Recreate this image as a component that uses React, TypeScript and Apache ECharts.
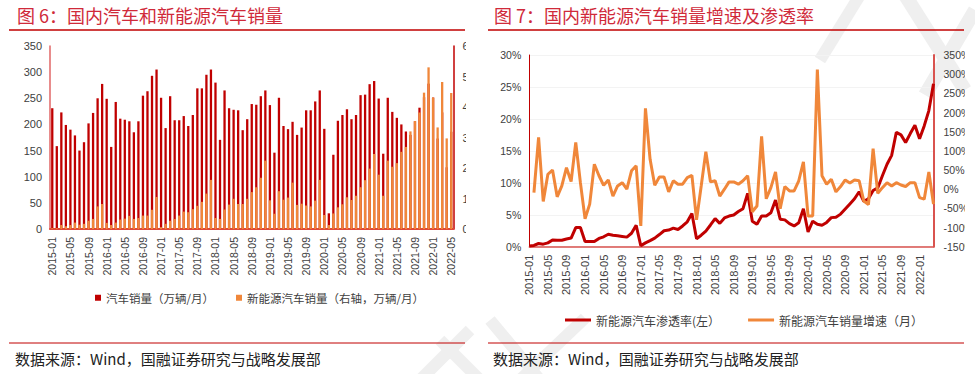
import React, { useEffect, useRef } from "react";
import * as echarts from "echarts";

function buildMonths(y0: number, n: number): string[] {
  const out: string[] = [];
  for (let i = 0; i < n; i++) {
    const y = y0 + Math.floor(i / 12);
    const m = (i % 12) + 1;
    out.push(`${y}-${m < 10 ? "0" + m : m}`);
  }
  return out;
}

// Figure 6 categories: 2015-01 .. 2022-05
const CAT_LEFT = buildMonths(2015, 89);
// Figure 7 categories: 2015-01 .. 2022-04
const CAT_RIGHT = buildMonths(2015, 88);

// 汽车销量（万辆/月）
const TOTAL_SALES = [
  231, 158.5, 223, 199, 190, 179, 150, 166, 202, 222, 250, 277.5,
  249, 157, 243, 211, 209, 206, 185, 206, 255, 263.5, 293, 305,
  251, 193, 254, 208, 208, 216, 197, 218, 269, 269, 295, 305,
  280, 170.5, 265, 231, 228, 227, 189, 210, 239, 237.4, 254, 265,
  237, 146, 251, 197, 191, 205, 180, 194, 227, 227, 244, 265,
  191.6, 30, 142, 207, 218, 229, 210, 218, 256, 257, 277, 283,
  249.5, 144, 251, 224, 212.6, 200, 186.5, 180, 206, 232, 252, 278,
  251.4, 173, 223, 118, 186,
];

// 新能源汽车销量（右轴，万辆/月）
const NEV_SALES = [
  0.3, 0.3, 1.3, 0.9, 1.3, 2.1, 1.4, 1.7, 2.7, 3.3, 7.4, 8.2,
  2.0, 1.3, 2.1, 3.1, 3.4, 4.3, 3.3, 3.6, 4.4, 4.4, 6.3, 10.5,
  0.6, 1.7, 2.7, 3.3, 4.4, 5.7, 5.5, 6.5, 7.6, 8.9, 11.6, 16.1,
  3.6, 3.3, 6.4, 8.0, 9.9, 8.2, 8.2, 9.9, 12.1, 13.7, 16.8, 22.4,
  9.4, 5.0, 12.4, 9.6, 10.3, 15.2, 7.9, 8.3, 7.7, 7.4, 9.3, 16.1,
  4.6, 1.3, 5.1, 7.1, 8.1, 10.4, 9.5, 10.9, 13.7, 16.0, 19.8, 24.6,
  17.8, 10.9, 22.4, 20.4, 21.6, 25.3, 26.9, 32.0, 35.4, 38.2, 44.7, 53.0,
  43.1, 33.3, 48.2, 29.7, 44.6,
];

// 新能源汽车渗透率（左，%）
const PENETRATION = [
  0.1, 0.2, 0.5, 0.4, 0.6, 1.05, 1.0, 1.0, 1.2, 1.35, 3.0, 3.0,
  0.8, 0.8, 0.8, 1.3, 1.55, 1.95, 1.8, 1.7, 1.6, 1.5, 2.1, 3.35,
  0.15, 0.6, 0.95, 1.35, 1.9, 2.5, 2.6, 2.9, 2.7, 3.25, 3.9, 5.2,
  1.25, 1.8, 2.45, 3.4, 4.4, 3.65, 4.5, 4.8, 4.95, 5.5, 5.95, 8.35,
  4.0, 3.5, 4.8, 4.8, 5.3, 7.3, 4.3, 4.2, 3.6, 3.25, 3.75, 5.95,
  2.3, 4.0, 3.5, 3.35, 3.8, 4.55, 4.6, 5.1, 5.9, 6.7, 7.5, 8.6,
  7.1, 7.5, 8.8, 9.2, 11.1, 12.9, 14.3, 17.9, 17.5, 16.3, 17.7, 19.0,
  16.9, 18.9, 21.3, 25.5,
];

// 新能源汽车销量增速（月，%）
const NEV_GROWTH: (number | null)[] = [
  null, -9, 135, -32, 39, 50, -20, 8.5, 56, 20, 122, 17,
  -77, -39, 65, 35, 10, 24, -18, 8.5, 17, 0, 48, 61,
  -96, 211, 78, 10, 32, 32, -7, 22, 13, 13, 30, 36,
  -80, 8.5, 98, 19, 22, -18, 0, 19, 19, 13, 22, 35,
  -59, -44, 138, -25, 4, 45, -51, 7, -4.5, -4.5, 22, 71,
  -70, -70, 312, 35, 13, 26, -7, 7, 24, 16, 24, 22,
  -31, -40, 106, -11, 4, 17, 8.5, 17, 11, 7, 17, 17,
  -22, -26, 45, -39,
];

const TITLE_LEFT = "图 6：国内汽车和新能源汽车销量";
const TITLE_RIGHT = "图 7：国内新能源汽车销量增速及渗透率";
const SOURCE = "数据来源：Wind，国融证券研究与战略发展部";
const LEG_TOTAL = "汽车销量（万辆/月）";
const LEG_NEV = "新能源汽车销量（右轴，万辆/月）";
const LEG_PEN = "新能源汽车渗透率(左）";
const LEG_GROWTH = "新能源汽车销量增速（月）";

const CJK = '"Noto Sans CJK SC", sans-serif';
const NUM = '"Liberation Sans", Arial, "Noto Sans CJK SC", sans-serif';
const RED = "#c00000";
const ORANGE = "#f0873a";
const TEXT = "#404040";

function useChart(build: () => any) {
  const ref = useRef<HTMLDivElement | null>(null);
  useEffect(() => {
    if (!ref.current) return;
    const chart = echarts.init(ref.current, undefined, { renderer: "svg" });
    chart.setOption(build());
    return () => chart.dispose();
  }, []);
  return ref;
}

function backgroundOption() {
  const wm = "#efefef";
  return {
    animation: false,
    graphic: [
      // watermark fragments
      { type: "line", shape: { x1: 905, y1: -5, x2: 965, y2: 90 }, style: { stroke: wm, lineWidth: 14 } },
      { type: "line", shape: { x1: 975, y1: 10, x2: 925, y2: 95 }, style: { stroke: wm, lineWidth: 14 } },
      { type: "line", shape: { x1: 860, y1: -5, x2: 820, y2: 60 }, style: { stroke: wm, lineWidth: 12 } },
      { type: "line", shape: { x1: 490, y1: 320, x2: 540, y2: 380 }, style: { stroke: wm, lineWidth: 12 } },
      { type: "line", shape: { x1: 520, y1: 380, x2: 585, y2: 318 }, style: { stroke: wm, lineWidth: 12 } },
      { type: "line", shape: { x1: 420, y1: 380, x2: 470, y2: 330 }, style: { stroke: wm, lineWidth: 12 } },
      { type: "line", shape: { x1: 440, y1: 340, x2: 480, y2: 380 }, style: { stroke: wm, lineWidth: 12 } },
      // titles
      { type: "text", x: 17, y: 6, style: { text: TITLE_LEFT, fill: "#d02a3a", font: `18px ${CJK}` } },
      { type: "text", x: 494, y: 6, style: { text: TITLE_RIGHT, fill: "#d02a3a", font: `18px ${CJK}` } },
      { type: "line", shape: { x1: 9, y1: 30, x2: 465, y2: 30 }, style: { stroke: RED, lineWidth: 1.5 } },
      { type: "line", shape: { x1: 488, y1: 30, x2: 964, y2: 30 }, style: { stroke: RED, lineWidth: 1.5 } },
      // sources
      { type: "line", shape: { x1: 9, y1: 343, x2: 465, y2: 343 }, style: { stroke: RED, lineWidth: 1 } },
      { type: "line", shape: { x1: 488, y1: 343, x2: 964, y2: 343 }, style: { stroke: RED, lineWidth: 1 } },
      { type: "text", x: 15, y: 358, style: { text: SOURCE, fill: "#222", font: `15px ${CJK}`, verticalAlign: "middle" } },
      { type: "text", x: 493, y: 358, style: { text: SOURCE, fill: "#222", font: `15px ${CJK}`, verticalAlign: "middle" } },
    ],
  };
}

function leftOption() {
  return {
    animation: false,
    textStyle: { fontFamily: NUM },
    grid: { left: 50, right: 12.5, top: 46, height: 183, outerBoundsMode: "none", containLabel: false },
    legend: {
      left: 90,
      top: 287,
      icon: "rect",
      itemWidth: 6,
      itemHeight: 6,
      itemGap: 22,
      textStyle: { fontSize: 11.5, color: TEXT, fontFamily: CJK },
      data: [LEG_TOTAL, LEG_NEV],
    },
    xAxis: {
      type: "category",
      data: CAT_LEFT,
      axisLine: { lineStyle: { color: "#e0483a", width: 2 } },
      axisTick: { show: false },
      axisLabel: { interval: 3, rotate: 90, fontSize: 10.5, color: TEXT, margin: 8 },
    },
    yAxis: [
      {
        type: "value",
        min: 0,
        max: 350,
        interval: 50,
        axisLine: { show: true, lineStyle: { color: "#e06666", width: 1.5 } },
        axisTick: { show: false },
        axisLabel: { fontSize: 11, color: TEXT, margin: 8 },
        splitLine: { show: false },
      },
      {
        type: "value",
        min: 0,
        max: 60,
        interval: 10,
        position: "right",
        axisLine: { show: true, lineStyle: { color: RED, width: 1.5 } },
        axisTick: { show: false },
        axisLabel: { fontSize: 11, color: TEXT, margin: 9 },
        splitLine: { show: false },
      },
    ],
    series: [
      {
        name: LEG_TOTAL,
        type: "bar",
        data: TOTAL_SALES,
        barWidth: 2.3,
        barGap: "-100%",
        itemStyle: { color: RED },
      },
      {
        name: LEG_NEV,
        type: "bar",
        yAxisIndex: 1,
        data: NEV_SALES,
        barWidth: 2.3,
        barGap: "-100%",
        itemStyle: { color: ORANGE },
      },
    ],
  };
}

function rightOption() {
  return {
    animation: false,
    textStyle: { fontFamily: NUM },
    grid: { left: 44.3, right: 31.5, top: 55, height: 191.7, outerBoundsMode: "none", containLabel: false },
    legend: {
      left: 75,
      top: 309,
      icon: "rect",
      itemWidth: 26,
      itemHeight: 3,
      itemGap: 28,
      textStyle: { fontSize: 12, color: TEXT, fontFamily: CJK },
      data: [LEG_PEN, LEG_GROWTH],
    },
    xAxis: {
      type: "category",
      data: CAT_RIGHT,
      boundaryGap: false,
      axisLine: { lineStyle: { color: "#d9534f", width: 1.5 } },
      axisTick: { show: false },
      axisLabel: { interval: 3, rotate: 90, fontSize: 11, color: TEXT, margin: 8 },
    },
    yAxis: [
      {
        type: "value",
        min: 0,
        max: 30,
        interval: 5,
        axisLine: { show: true, lineStyle: { color: RED, width: 1 } },
        axisTick: { show: false },
        axisLabel: { fontSize: 10.5, color: TEXT, margin: 8, formatter: "{value}%" },
        splitLine: { show: true, lineStyle: { color: "#f3f3f3", width: 1 } },
      },
      {
        type: "value",
        min: -150,
        max: 350,
        interval: 50,
        position: "right",
        axisLine: { show: true, lineStyle: { color: "#d9534f", width: 2 } },
        axisTick: { show: false },
        axisLabel: { fontSize: 10.5, color: TEXT, margin: 10, formatter: "{value}%" },
        splitLine: { show: false },
      },
    ],
    series: [
      {
        name: LEG_PEN,
        type: "line",
        data: PENETRATION,
        symbol: "none",
        lineStyle: { color: RED, width: 3 },
        itemStyle: { color: RED },
      },
      {
        name: LEG_GROWTH,
        type: "line",
        yAxisIndex: 1,
        data: NEV_GROWTH,
        symbol: "none",
        lineStyle: { color: ORANGE, width: 3 },
        itemStyle: { color: ORANGE },
      },
    ],
  };
}

export default function App() {
  const bgRef = useChart(backgroundOption);
  const leftRef = useChart(leftOption);
  const rightRef = useChart(rightOption);
  return (
    <div style={{ position: "fixed", left: 0, top: 0, width: 975, height: 374, background: "#fff", overflow: "hidden" }}>
      <div ref={bgRef} style={{ position: "absolute", left: 0, top: 0, width: 975, height: 374 }} />
      <div ref={leftRef} style={{ position: "absolute", left: 0, top: 0, width: 466, height: 374 }} />
      <div ref={rightRef} style={{ position: "absolute", left: 485, top: 0, width: 480, height: 374 }} />
    </div>
  );
}
